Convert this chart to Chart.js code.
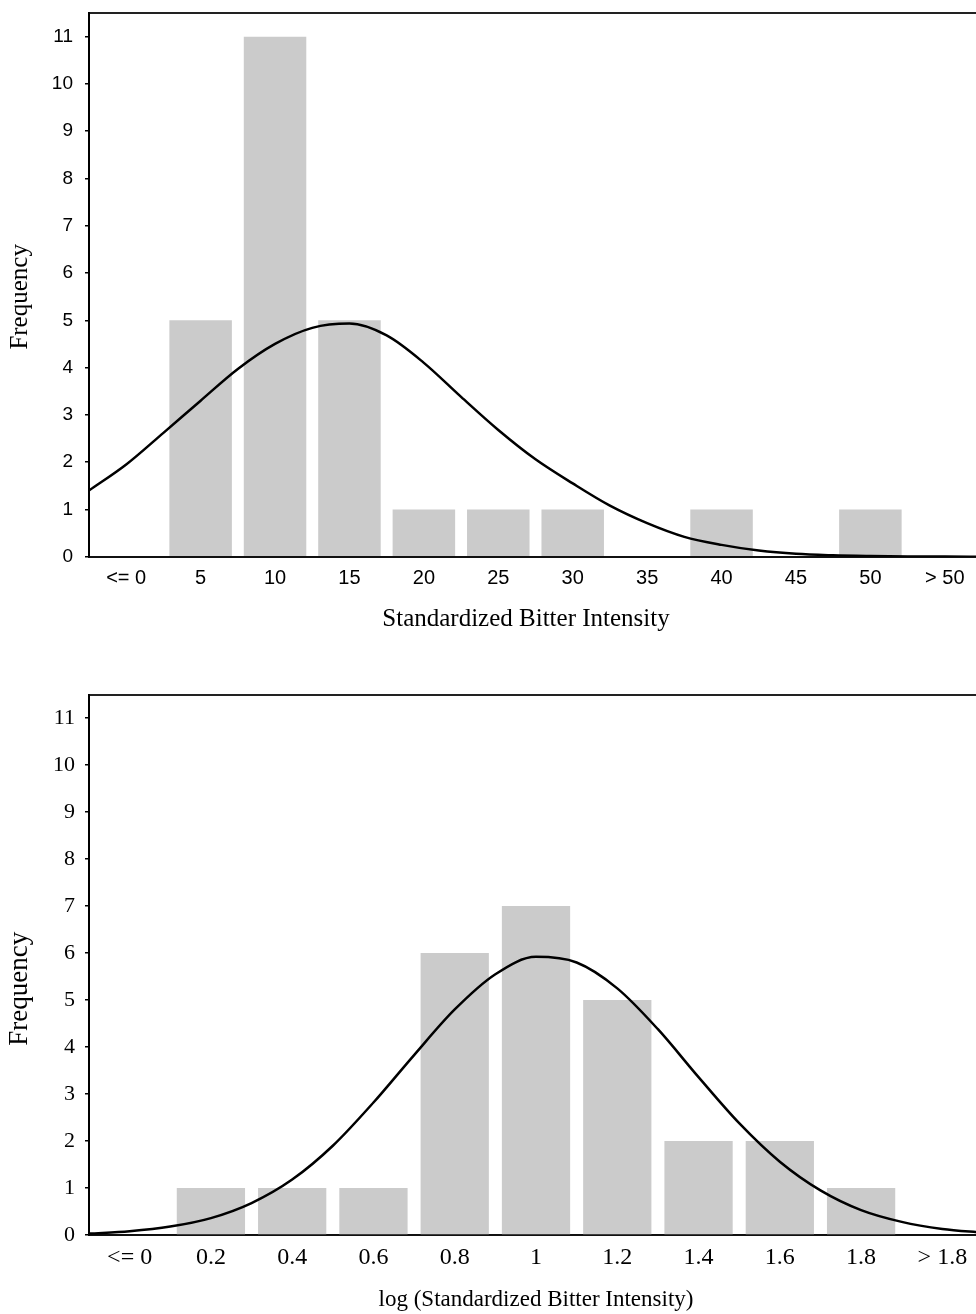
<!DOCTYPE html>
<html>
<head>
<meta charset="utf-8">
<title>Bitter intensity histograms</title>
<script src="https://cdn.jsdelivr.net/npm/chart.js@4.4.1/dist/chart.umd.min.js"></script>
<style>
  html, body { margin: 0; padding: 0; background: #fff; overflow: hidden; width: 976px; height: 1314px; }
  .panel { position: absolute; left: 0; }
</style>
</head>
<body>
<div class="panel" style="top:0px"><canvas id="rawChart" width="984" height="650"></canvas></div>
<div class="panel" style="top:650px"><canvas id="logChart" width="984" height="664"></canvas></div>
<script>
// ---- Frequency axis ticks (shared) ----
const frequencyTicks = [0, 1, 2, 3, 4, 5, 6, 7, 8, 9, 10, 11];

// ---- Standardized bitter intensity: bins and counts ----
const rawBins = ['<= 0', '5', '10', '15', '20', '25', '30', '35', '40', '45', '50', '> 50'];
const rawCounts = [0, 5, 11, 5, 1, 1, 1, 0, 1, 0, 1, 0];
// fitted normal curve, x in bin-index units
const rawFitX = [-0.5, 0, 0.5, 1, 1.5, 2, 2.5, 3, 3.5, 4, 4.5, 5, 5.5, 6, 6.5, 7, 7.5, 8, 8.5, 9, 9.5, 10, 10.5, 11, 11.5];
const rawFitY = [1.40, 1.95, 2.62, 3.30, 3.97, 4.50, 4.84, 4.93, 4.68, 4.10, 3.38, 2.68, 2.06, 1.55, 1.08, 0.71, 0.42, 0.25, 0.13, 0.06, 0.03, 0.015, 0.006, 0.002, 0.0];

// ---- log(Standardized bitter intensity): bins and counts ----
const logBins = ['<= 0', '0.2', '0.4', '0.6', '0.8', '1', '1.2', '1.4', '1.6', '1.8', '> 1.8'];
const logCounts = [0, 1, 1, 1, 6, 7, 5, 2, 2, 1, 0];
const logFitX = [-0.5, 0, 0.5, 1, 1.5, 2, 2.5, 3, 3.5, 4, 4.5, 5, 5.5, 6, 6.5, 7, 7.5, 8, 8.5, 9, 9.5, 10, 10.5];
const logFitY = [0.03, 0.08, 0.18, 0.36, 0.68, 1.18, 1.90, 2.82, 3.83, 4.80, 5.55, 5.92, 5.80, 5.25, 4.38, 3.36, 2.38, 1.56, 0.95, 0.53, 0.28, 0.13, 0.05];

// Draws the axis captions around the plot area
const captionPlugin = {
  id: 'captions',
  afterDraw(chart, args, opts) {
    const ctx = chart.ctx;
    const a = chart.chartArea;
    ctx.save();
    ctx.fillStyle = '#000';
    ctx.textAlign = 'center';
    ctx.textBaseline = 'middle';
    ctx.font = opts.xFont;
    ctx.fillText(opts.xText, (a.left + a.right) / 2 + opts.xShift, a.bottom + opts.xGap);
    ctx.font = opts.yFont;
    ctx.translate(opts.yX, (a.top + a.bottom) / 2 + opts.yShift);
    ctx.rotate(-Math.PI / 2);
    ctx.fillText(opts.yText, 0, 0);
    ctx.restore();
  }
};

function histogram(canvasId, bins, counts, fitX, fitY, s) {
  const canvas = document.getElementById(canvasId);
  const H = canvas.height;
  return new Chart(canvas, {
    data: {
      labels: bins,
      datasets: [
        {
          type: 'line',
          label: 'Normal fit',
          xAxisID: 'fit',
          yAxisID: 'y',
          data: fitX.map((x, i) => ({ x: x, y: fitY[i] })),
          borderColor: '#000',
          borderWidth: 2.5,
          pointRadius: 0,
          fill: false,
          cubicInterpolationMode: 'monotone',
          order: 0
        },
        {
          type: 'bar',
          label: 'Frequency',
          xAxisID: 'x',
          yAxisID: 'y',
          data: counts,
          backgroundColor: '#cbcbcb',
          borderWidth: 0,
          grouped: false,
          barPercentage: 0.84,
          categoryPercentage: 1.0,
          order: 1
        }
      ]
    },
    options: {
      responsive: false,
      animation: false,
      layout: { padding: { top: s.top, right: s.right, left: 0, bottom: 0 } },
      plugins: {
        legend: { display: false },
        tooltip: { enabled: false },
        captions: {
          xFont: s.xCaptionFont, yFont: s.yCaptionFont,
          xText: s.xText, xShift: s.xShift, xGap: s.xGap,
          yText: 'Frequency', yX: 20, yShift: s.yShift
        }
      },
      scales: {
        x: {
          type: 'category',
          position: 'bottom',
          offset: true,
          grid: { display: false, drawTicks: false },
          border: { display: true, color: '#111', width: 2 },
          ticks: { color: '#000', font: s.xTickFont, padding: s.xTickPad, maxRotation: 0, autoSkip: false },
          afterFit: (sc) => { sc.height = H - s.bottom; sc.paddingLeft = 0; sc.paddingRight = 0; }
        },
        fit: {
          type: 'linear',
          position: 'top',
          min: -0.5,
          max: bins.length - 0.5,
          grid: { display: false, drawTicks: false },
          ticks: { display: false },
          border: { display: true, color: '#222', width: 2 },
          afterFit: (sc) => { sc.height = 0; sc.paddingLeft = 0; sc.paddingRight = 0; }
        },
        y: {
          type: 'linear',
          position: 'left',
          min: 0,
          max: 11.5,
          afterBuildTicks: (sc) => { sc.ticks = frequencyTicks.map(v => ({ value: v })); },
          grid: { drawOnChartArea: false, drawTicks: true, tickLength: 4, color: '#000', lineWidth: 1.5 },
          border: { display: true, color: '#000', width: 2 },
          ticks: { color: '#000', font: s.yTickFont, padding: s.yTickPad },
          afterFit: (sc) => { sc.width = 89; sc.paddingTop = 0; sc.paddingBottom = 0; }
        }
      }
    },
    plugins: [captionPlugin]
  });
}

histogram('rawChart', rawBins, rawCounts, rawFitX, rawFitY, {
  top: 13, bottom: 556.7, right: 2,
  xTickFont: { family: 'Liberation Sans', size: 20 },
  yTickFont: { family: 'Liberation Sans', size: 19 },
  xTickPad: 10, yTickPad: 12,
  xCaptionFont: '25px "Liberation Serif"',
  yCaptionFont: '25px "Liberation Serif"',
  xText: 'Standardized Bitter Intensity', xShift: -9.5, xGap: 63, yShift: 12
});

histogram('logChart', logBins, logCounts, logFitX, logFitY, {
  top: 44.7, bottom: 585, right: 1,
  xTickFont: { family: 'Liberation Serif', size: 24 },
  yTickFont: { family: 'Liberation Serif', size: 22 },
  xTickPad: 8, yTickPad: 10,
  xCaptionFont: '23px "Liberation Serif"',
  yCaptionFont: '27px "Liberation Serif"',
  xText: 'log (Standardized Bitter Intensity)', xShift: 0, xGap: 65, yShift: 24
});
</script>
</body>
</html>
